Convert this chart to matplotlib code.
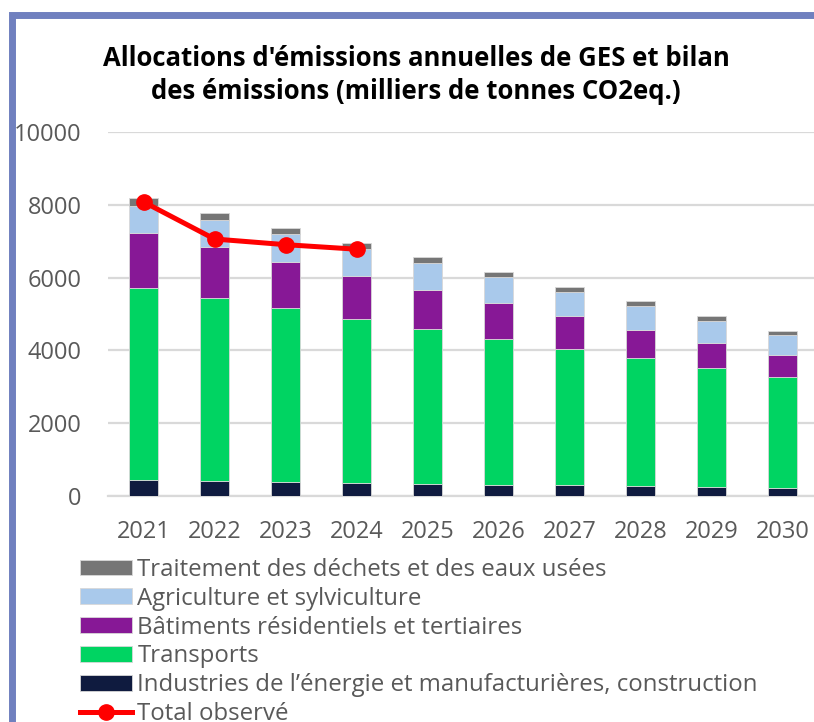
import matplotlib.pyplot as plt
import numpy as np
from matplotlib.patches import Rectangle

# Data (milliers de tonnes CO2eq.)
years = ["2021", "2022", "2023", "2024", "2025", "2026", "2027", "2028", "2029", "2030"]
industries = [440, 410, 385, 360, 340, 310, 295, 265, 250, 230]
transports = [5280, 5030, 4770, 4500, 4240, 4005, 3745, 3515, 3265, 3050]
batiments = [1495, 1390, 1285, 1190, 1080, 995, 895, 790, 695, 585]
agriculture = [760, 750, 750, 745, 750, 700, 675, 650, 605, 555]
dechets = [205, 185, 165, 165, 150, 145, 140, 130, 130, 120]
total_years = ["2021", "2022", "2023", "2024"]
total_observe = [8080, 7060, 6905, 6780]

labels = [
    "Industries de l\u2019énergie et manufacturières, construction",
    "Transports",
    "Bâtiments résidentiels et tertiaires",
    "Agriculture et sylviculture",
    "Traitement des déchets et des eaux usées",
]
colors = ["#0F1B3F", "#00D462", "#871896", "#A9C9EB", "#767676"]

plt.rcParams["font.family"] = ["Open Sans", "DejaVu Sans"]

fig = plt.figure(figsize=(8.14, 7.22), dpi=100)
ax = fig.add_axes([108 / 814, 1 - 496 / 722, 710 / 814, 364 / 722])

x = np.arange(len(years))
bottom = np.zeros(len(years))
handles = []
for vals, col, lab in zip(
    [industries, transports, batiments, agriculture, dechets], colors, labels
):
    b = ax.bar(x, vals, 0.4, bottom=bottom, color=col, label=lab,
               edgecolor="#d8d8d8", linewidth=0.6, zorder=3)
    handles.append(b)
    bottom += np.array(vals)

xt = [years.index(y) for y in total_years]
(line,) = ax.plot(xt, total_observe, color="#FF0000", lw=3.6, marker="o",
                  markersize=11, zorder=4, label="Total observé")

ax.set_xlim(-0.5, len(years) - 0.5)
ax.set_ylim(0, 10000)
ax.set_yticks(np.arange(0, 10001, 2000))
ax.set_xticks(x, years)
ax.yaxis.grid(True, color="#d9d9d9", lw=1.6, zorder=0)
for s in ["left", "right", "top"]:
    ax.spines[s].set_visible(False)
ax.spines["bottom"].set_color("#d9d9d9")
ax.spines["bottom"].set_linewidth(1.6)
ax.tick_params(axis="both", length=0, labelsize=17, labelcolor="#595959")
ax.tick_params(axis="y", pad=19)
ax.tick_params(axis="x", pad=17)

fig.text(416 / 814, 1 - 75 / 722,
         "Allocations d'émissions annuelles de GES et bilan\ndes émissions (milliers de tonnes CO2eq.)",
         ha="center", va="center", fontsize=18.5, fontweight="bold",
         color="black", linespacing=1.32)

leg_handles = handles[::-1] + [line]
leg_labels = labels[::-1] + ["Total observé"]
fig.legend(leg_handles, leg_labels, loc="upper left",
           bbox_to_anchor=(80 / 814, 1 - 558 / 722), frameon=False,
           fontsize=17.3, labelcolor="#595959", handlelength=2.17,
           handleheight=0.63, handletextpad=0.22, labelspacing=0.2,
           borderpad=0, borderaxespad=0)

# cadre
fig.patches.append(Rectangle((11.5 / 814, -0.1), 1.0, 1.1 - 14.5 / 722,
                             transform=fig.transFigure, fill=False,
                             edgecolor="#7080BF", lw=5, clip_on=False))

fig.savefig("out.png", dpi=100)
